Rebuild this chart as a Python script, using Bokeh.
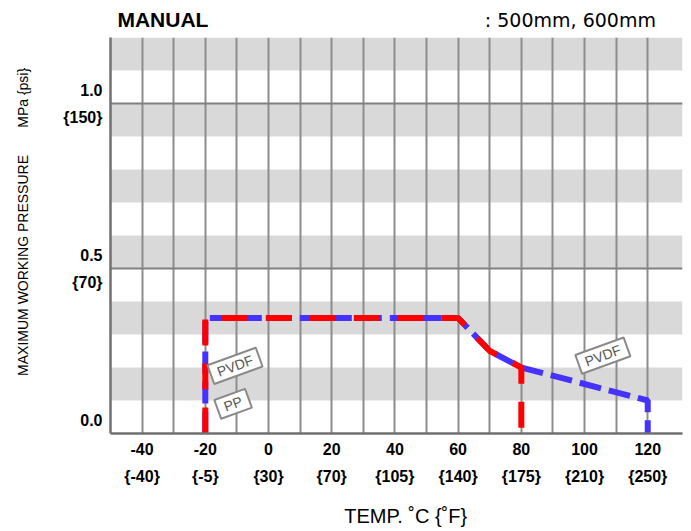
import numpy as np
from bokeh.plotting import figure
from bokeh.layouts import column
from bokeh.models import LinearAxis, FixedTicker, Range1d, Label, BoxAnnotation
from bokeh.core.properties import value
from bokeh.embed import file_html
from bokeh.resources import INLINE

# ---- data ----
temp_c_ticks = [-40, -20, 0, 20, 40, 60, 80, 100, 120]
temp_c_labels = ["-40", "-20", "0", "20", "40", "60", "80", "100", "120"]
temp_f_labels = ["{-40}", "{-5}", "{30}", "{70}", "{105}", "{140}", "{175}", "{210}", "{250}"]
mpa_ticks = [0.0, 0.5, 1.0]
mpa_labels = ["0.0", "0.5", "1.0"]
psi_ticks = [0.5, 1.0]
psi_labels = ["{70}", "{150}"]

pp_temp = [-20, -20, 60, 70, 80, 80]
pp_pressure = [0.0, 0.35, 0.35, 0.25, 0.2, 0.0]
pvdf_temp = [-20, -20, 60, 70, 80, 120, 120]
pvdf_pressure = [0.0, 0.35, 0.35, 0.25, 0.2, 0.1, 0.0]

tag_text = ["PVDF", "PP", "PVDF"]
tag_x = [-10.6, -11.2, 105.8]
tag_y = [0.205, 0.09, 0.236]

title_left = "MANUAL"
title_right = ":  500mm, 600mm"
x_title = "TEMP. \u02daC {\u02daF}"

FONT = "Liberation Sans"
NB = "\u00a0"
W = 691
HEAD_H = 37
FOOT_H = 36
MAIN_H = 531 - HEAD_H - FOOT_H

x_rng = Range1d(-50, 131)


def text_strip(h):
    # strips share the chart's x scale (column layout aligns the frames)
    f = figure(width=W, height=h, x_range=x_rng, y_range=Range1d(h, 0),
               output_backend="svg", toolbar_location=None,
               x_axis_location=None, y_axis_location=None,
               min_border_left=110, min_border_right=9, min_border_top=0, min_border_bottom=0)
    f.outline_line_color = None
    f.background_fill_color = "white"
    f.border_fill_color = "white"
    f.xgrid.visible = False
    f.ygrid.visible = False
    return f


# ---- header ----
head = text_strip(HEAD_H)
head.text(x=[-47.8], y=[19], text=[title_left], text_font=value(FONT), text_font_style="bold",
          text_font_size="21px", text_baseline="middle", text_align="left", text_color="black")
head.text(x=[124.5], y=[19], text=[title_right], text_font=value("DejaVu Sans"),
          text_font_style="normal", text_font_size="19px", text_baseline="middle",
          text_align="right", text_color="black")

# ---- main chart ----
p = figure(width=W, height=MAIN_H, x_range=x_rng, y_range=Range1d(0, 1.2),
           output_backend="svg", toolbar_location=None,
           min_border_left=110, min_border_right=9, min_border_top=0, min_border_bottom=MAIN_H - 396)
p.outline_line_color = None
p.background_fill_color = "white"

for b in np.arange(0.1, 1.2, 0.2):
    p.add_layout(BoxAnnotation(bottom=b, top=b + 0.1, fill_color="#d9d9d9", fill_alpha=1.0,
                               line_color=None, level="image"))

p.xgrid.ticker = FixedTicker(ticks=list(range(-40, 121, 10)))
p.xgrid.grid_line_color = "#8c8c8c"
p.xgrid.grid_line_width = 2
p.ygrid.ticker = FixedTicker(ticks=[0.5, 1.0])
p.ygrid.grid_line_color = "#808080"
p.ygrid.grid_line_width = 2

xa = p.xaxis[0]
xa.ticker = FixedTicker(ticks=temp_c_ticks)
xa.major_label_overrides = dict(zip(temp_c_ticks, temp_c_labels))
xa.major_tick_line_color = None
xa.minor_tick_line_color = None
xa.axis_line_color = "#707070"
xa.axis_line_width = 2.5
xa.major_label_text_font = FONT
xa.major_label_text_font_style = "bold"
xa.major_label_text_font_size = "16px"
xa.major_label_text_color = "black"
xa.major_label_standoff = 3

fa = LinearAxis(ticker=FixedTicker(ticks=temp_c_ticks),
                major_label_overrides=dict(zip(temp_c_ticks, temp_f_labels)),
                axis_line_color=None, major_tick_line_color=None, minor_tick_line_color=None,
                major_label_text_font=FONT, major_label_text_font_style="bold",
                major_label_text_font_size="16px", major_label_text_color="black",
                major_label_standoff=4)
p.add_layout(fa, "below")

ya = p.yaxis[0]
ypos = [v + 0.04 for v in mpa_ticks] + [v - 0.043 for v in psi_ticks]
ylab = mpa_labels + psi_labels
ya.ticker = FixedTicker(ticks=ypos)
ya.major_label_overrides = {t: l for t, l in zip(ypos, ylab)}
ya.major_tick_line_color = None
ya.minor_tick_line_color = None
ya.axis_line_color = "#707070"
ya.axis_line_width = 2.5
ya.major_label_text_font = FONT
ya.major_label_text_font_style = "bold"
ya.major_label_text_font_size = "16px"
ya.major_label_text_color = "black"
ya.major_label_standoff = 2
ya.axis_label = NB * 7 + "MAXIMUM WORKING PRESSURE" + NB * 7 + "MPa {psi}"
ya.axis_label_text_font = FONT
ya.axis_label_text_font_style = "normal"
ya.axis_label_text_font_size = "14px"
ya.axis_label_text_color = "black"
ya.axis_label_standoff = 29

p.line(pvdf_temp, pvdf_pressure, line_color="#4632ff", line_width=6, line_dash="22 8")
p.line(pp_temp, pp_pressure, line_color="#ff0000", line_width=6, line_dash="26 18")

for t, x, y in zip(tag_text, tag_x, tag_y):
    p.add_layout(Label(x=x, y=y, text=t, angle=20, angle_units="deg",
                       text_align="center", text_baseline="middle",
                       text_font=FONT, text_font_size="14px", text_color="#555555",
                       border_line_color="#8a8a8a", border_line_width=2,
                       background_fill_color="white", padding=(7, 2)))

# ---- footer (x axis title) ----
foot = text_strip(FOOT_H)
foot.text(x=[43.4], y=[20], text=[x_title], text_font=value(FONT), text_font_style="normal",
          text_font_size="20px", text_baseline="middle", text_align="center", text_color="black")

layout = column(head, p, foot, spacing=0)
open("out.html", "w").write(file_html(layout, INLINE))
